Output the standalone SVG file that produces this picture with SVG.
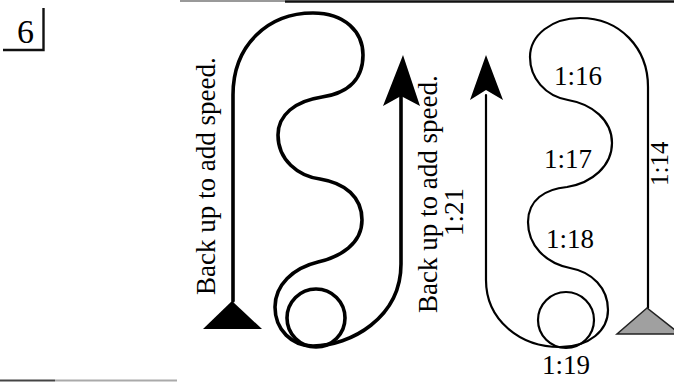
<svg xmlns="http://www.w3.org/2000/svg" width="674" height="382" viewBox="0 0 674 382">
<style>
.t{font-family:"Liberation Serif","Times New Roman",serif;fill:#000}
.lbl{font-size:27px}
.thick{fill:none;stroke:#000;stroke-width:3.6;stroke-linecap:round;stroke-linejoin:round}
.thin{fill:none;stroke:#000;stroke-width:2.2;stroke-linecap:round;stroke-linejoin:round}
</style>
<rect width="674" height="382" fill="#fff"/>
<g id="frame">
<line x1="180" y1="1" x2="285" y2="1" stroke="#999" stroke-width="2"/>
<line x1="285" y1="1.5" x2="674" y2="1.5" stroke="#111" stroke-width="2.5"/>
<line x1="0" y1="380.5" x2="55" y2="380.5" stroke="#444" stroke-width="2"/>
<line x1="55" y1="380.5" x2="177" y2="380.5" stroke="#aaa" stroke-width="2"/>
</g>
<g id="number">
<text class="t" x="17" y="43" font-size="34">6</text>
<polyline points="3,50 43.5,50 43.5,8" fill="none" stroke="#111" stroke-width="2.4"/>
</g>
<g id="connectors">
<path class="thick" d="M233,301 L233,95 C233,45 268,13 313,13 C345,13 363,32 363,55 C363,84 342,94 322,97 C295,101 278,115 278,135 C278,160 298,176 320,179 C345,183 362,197 362,220 C362,244 340,257 318,262 C293,268 275,285 275,307 C275,330 292,346 313,346 C350,346 401,318 401,264 L401,96"/>
<path d="M403,55 L383,106 L401,96 L420,106 Z" fill="#000"/>
<path class="thin" d="M486,95 L486,280 C486,320 520,347 560,347 C590,347 608,330 608,310 C608,288 592,272 570,268 C545,263 528,245 528,222 C528,200 545,189 567,187 C592,183 612,166 612,143 C612,120 592,104 568,100 C545,96 530,78 530,57 C530,35 552,18 580,18 C620,18 648,48 648,87 L648,308"/>
<path d="M486,55 L470,100 L486,90 L503,100 Z" fill="#000"/>
</g>
<g id="left-start">
<path d="M232,301 L203,329 L262,329 Z" fill="#000"/>
</g>
<g id="left-loop">
<circle cx="316" cy="318" r="29" class="thick"/>
</g>
<g id="right-loop">
<circle cx="566" cy="320" r="28" class="thin"/>
</g>
<g id="right-start">
<path d="M647,308 L617,334 L680,334 Z" fill="#a0a0a0" stroke="#222" stroke-width="1.5"/>
</g>
<g id="labels">
<text class="t lbl" transform="translate(215,295) rotate(-90)">Back up to add speed.</text>
<text class="t lbl" transform="translate(437,313) rotate(-90)">Back up to add speed.</text>
<text class="t lbl" transform="translate(463,236) rotate(-90)">1:21</text>
<text class="t" font-size="25" transform="translate(668,186) rotate(-90)">1:14</text>
<text class="t lbl" x="554" y="85">1:16</text>
<text class="t lbl" x="544" y="168">1:17</text>
<text class="t lbl" x="546" y="248">1:18</text>
<text class="t lbl" x="542" y="374">1:19</text>
</g>
</svg>
